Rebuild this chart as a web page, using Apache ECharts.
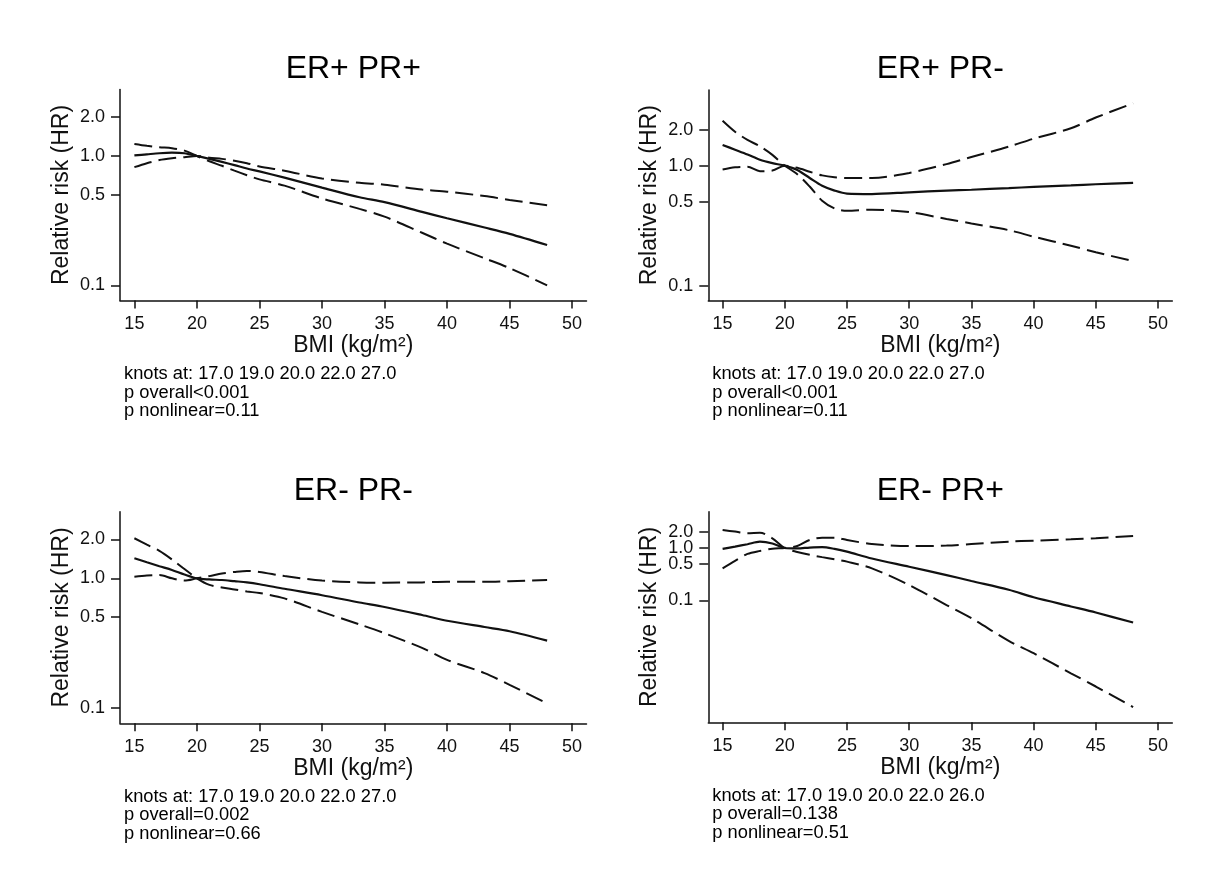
<!DOCTYPE html>
<html>
<head>
<meta charset="utf-8">
<script src="https://cdn.jsdelivr.net/npm/echarts@6/dist/echarts.min.js"></script>
<style>
html,body{margin:0;padding:0;background:#fff;}
#chart{width:1208px;height:884px;}
</style>
</head>
<body>
<div id="chart"></div>
<script>
// ---------------- DATA ----------------
const bmiPoints = [15,16,17,18,19,20,21,22,23,24,25,27,30,33,35,38,40,43,45,48];
const xTickValues = [15,20,25,30,35,40,45,50];
const yTickValues = [0.1,0.5,1.0,2.0];

const panelTitles = ['ER+ PR+','ER+ PR-','ER- PR-','ER- PR+'];
const panelNotes = [
  ['knots at: 17.0 19.0 20.0 22.0 27.0','p overall<0.001','p nonlinear=0.11'],
  ['knots at: 17.0 19.0 20.0 22.0 27.0','p overall<0.001','p nonlinear=0.11'],
  ['knots at: 17.0 19.0 20.0 22.0 27.0','p overall=0.002','p nonlinear=0.66'],
  ['knots at: 17.0 19.0 20.0 22.0 26.0','p overall=0.138','p nonlinear=0.51']
];

// ER+ PR+
const p1Estimate = [1.01,1.03,1.05,1.06,1.05,1.00,0.95,0.90,0.85,0.80,0.76,0.68,0.57,0.48,0.44,0.37,0.33,0.28,0.25,0.205];
const p1DashA    = [1.24,1.20,1.17,1.15,1.10,1.00,0.91,0.84,0.77,0.71,0.66,0.59,0.47,0.39,0.34,0.255,0.21,0.162,0.136,0.10];
const p1DashB    = [0.82,0.88,0.93,0.96,0.98,1.00,0.97,0.95,0.92,0.88,0.83,0.77,0.67,0.62,0.60,0.55,0.53,0.49,0.457,0.416];
// ER+ PR-
const p2Estimate = [1.49,1.36,1.24,1.12,1.05,1.00,0.92,0.79,0.68,0.62,0.585,0.58,0.60,0.62,0.63,0.65,0.665,0.685,0.70,0.72];
const p2DashA    = [2.37,1.92,1.64,1.45,1.23,1.00,0.85,0.67,0.51,0.44,0.42,0.43,0.41,0.36,0.33,0.29,0.256,0.215,0.19,0.16];
const p2DashB    = [0.93,0.97,0.98,0.90,0.91,1.00,0.96,0.89,0.83,0.80,0.79,0.79,0.87,1.03,1.18,1.44,1.68,2.05,2.52,3.31];
// ER- PR-
const p3Estimate = [1.43,1.33,1.24,1.16,1.07,1.00,0.98,0.97,0.95,0.93,0.90,0.83,0.74,0.65,0.60,0.52,0.47,0.42,0.39,0.33];
const p3DashA    = [2.04,1.82,1.63,1.40,1.18,1.00,0.89,0.85,0.82,0.79,0.77,0.70,0.55,0.44,0.376,0.29,0.234,0.185,0.15,0.108];
const p3DashB    = [1.03,1.05,1.06,1.00,0.96,1.00,1.04,1.09,1.12,1.14,1.12,1.04,0.96,0.93,0.925,0.93,0.94,0.94,0.95,0.97];
// ER- PR+
const p4Estimate = [0.96,1.06,1.18,1.32,1.22,1.00,0.98,1.02,1.04,0.96,0.85,0.63,0.44,0.305,0.235,0.16,0.115,0.077,0.059,0.038];
const p4DashA    = [2.20,2.05,1.90,1.95,1.53,1.00,0.84,0.74,0.67,0.61,0.55,0.41,0.197,0.082,0.046,0.017,0.0099,0.0041,0.0023,0.00093];
const p4DashB    = [0.41,0.57,0.77,0.88,0.97,1.00,1.09,1.42,1.57,1.57,1.42,1.19,1.09,1.11,1.19,1.32,1.38,1.46,1.53,1.69];

const panelSeries = [
  [p1Estimate,p1DashA,p1DashB],
  [p2Estimate,p2DashA,p2DashB],
  [p3Estimate,p3DashA,p3DashB],
  [p4Estimate,p4DashA,p4DashB]
];

// ---------------- LAYOUT ----------------
const FONT = '"Liberation Sans", Arial, Helvetica, sans-serif';
const grids = [
  {left:120,   top:89.5,  width:466.5, height:211},
  {left:708.3, top:90,    width:464,   height:210.5},
  {left:120,   top:511.7, width:466.5, height:211.6},
  {left:708.3, top:511.7, width:464,   height:210.6}
];
const yRanges = [[-1.117,0.514],[-1.124,0.631],[-1.121,0.515],[-3.32,0.691]];
const xRange = [13.85,51.15];

const chart = echarts.init(document.getElementById('chart'), null, {renderer:'canvas'});
const ink = '#111';
const logTicks = yTickValues.map(v => Math.log10(v));
// labels split over two co-located axes so tightly packed labels are never dropped
const labelSetA = [yTickValues[0], yTickValues[2]].map(v => Math.log10(v));
const labelSetB = [yTickValues[1], yTickValues[3]].map(v => Math.log10(v));
const labelFmt = v => Math.pow(10, v).toFixed(1);

const yAxes = [];
grids.forEach((g,i) => {
  yAxes.push({
    type:'value', gridIndex:i, position:'left', min:yRanges[i][0], max:yRanges[i][1],
    name:'Relative risk (HR)', nameLocation:'middle', nameGap:47,
    nameTextStyle:{fontFamily:FONT, fontSize:23, color:ink},
    axisLine:{show:true, onZero:false, lineStyle:{color:ink, width:1.5}},
    axisTick:{show:true, length:9, customValues:logTicks, lineStyle:{color:ink, width:1.5}},
    axisLabel:{show:true, customValues:labelSetA, margin:15,
      fontFamily:FONT, fontSize:18, color:ink, hideOverlap:false,
      showMinLabel:true, showMaxLabel:true, formatter: labelFmt},
    splitLine:{show:false}
  });
});
grids.forEach((g,i) => {
  yAxes.push({
    type:'value', gridIndex:i, position:'left', offset:0, min:yRanges[i][0], max:yRanges[i][1],
    axisLine:{show:false}, axisTick:{show:false},
    axisLabel:{show:true, customValues:labelSetB, margin:15,
      fontFamily:FONT, fontSize:18, color:ink, hideOverlap:false,
      showMinLabel:true, showMaxLabel:true, formatter: labelFmt},
    splitLine:{show:false}
  });
});

const option = {
  backgroundColor:'#fff',
  animation:false,
  grid: grids.map(g => Object.assign({containLabel:false}, g)),
  xAxis: grids.map((g,i) => ({
    type:'value', gridIndex:i, min:xRange[0], max:xRange[1],
    name:'BMI (kg/m²)', nameLocation:'middle', nameGap:31,
    nameTextStyle:{fontFamily:FONT, fontSize:23, color:ink},
    axisLine:{show:true, onZero:false, lineStyle:{color:ink, width:1.5}},
    axisTick:{show:true, length:8, customValues:xTickValues, lineStyle:{color:ink, width:1.5}},
    axisLabel:{show:true, customValues:xTickValues, margin:15, fontFamily:FONT, fontSize:18, color:ink,
      hideOverlap:false, showMinLabel:true, showMaxLabel:true},
    splitLine:{show:false}
  })),
  yAxis: yAxes,
  series: [],
  graphic: []
};

panelSeries.forEach((arrs, i) => {
  arrs.forEach((vals, k) => {
    option.series.push({
      type:'line', xAxisIndex:i, yAxisIndex:i,
      data: bmiPoints.map((b, j) => [b, Math.log10(vals[j])]),
      showSymbol:false, smooth:0.3,
      lineStyle: k === 0
        ? {color:ink, width:2.2, type:'solid'}
        : {color:ink, width:2, type:[18,7]},
      z: 3
    });
  });
  const g = grids[i];
  option.graphic.push({
    type:'text',
    x: g.left + g.width/2, y: g.top - 20.5,
    style:{text:panelTitles[i], fontFamily:FONT, fontSize:32, fill:'#000',
      align:'center', verticalAlign:'middle', textAlign:'center', textVerticalAlign:'middle'}
  });
  option.graphic.push({
    type:'text',
    x: g.left + 4, y: g.top + g.height + 64.5,
    style:{text:panelNotes[i].join('\n'), fontFamily:FONT, fontSize:18.3, lineHeight:18.4, fill:'#000',
      align:'left', verticalAlign:'top', textAlign:'left', textVerticalAlign:'top'}
  });
});

chart.setOption(option);
</script>
</body>
</html>
